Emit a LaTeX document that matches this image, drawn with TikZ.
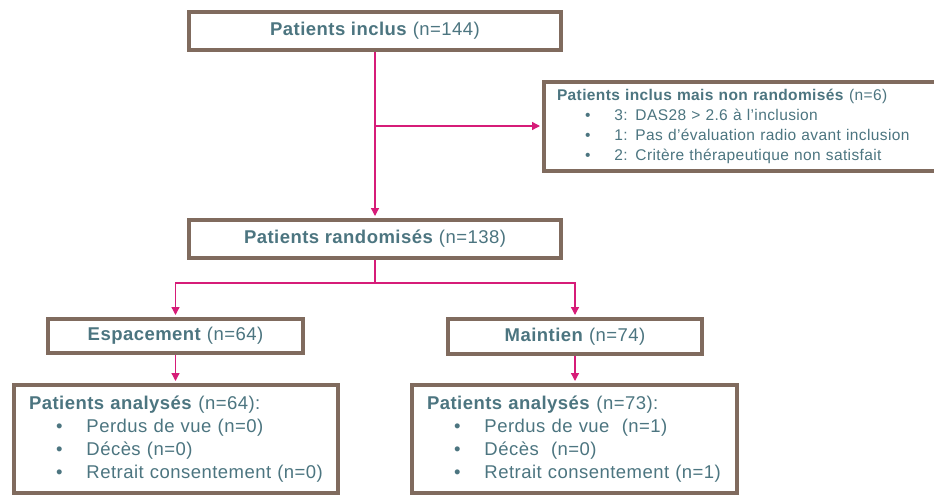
\documentclass[tikz,border=0pt]{standalone}
\usepackage{fontspec}
\setmainfont{Liberation Sans}[LetterSpace=2.5]
\usetikzlibrary{arrows.meta}
\definecolor{cadre}{RGB}{128,107,94}
\definecolor{lien}{RGB}{214,28,120}
\definecolor{texte}{RGB}{76,117,128}
\begin{document}
\begin{tikzpicture}[x=1pt,y=-1pt,
    boite/.style={draw=cadre,line width=4pt,fill=white,text=texte,inner sep=0pt,font=\fontsize{18.5}{23}\selectfont},
    liste/.style={boite,align=left,inner xsep=15pt},
    fleche/.style={draw=lien,line width=1.3pt,shorten >=2pt,-{Triangle[length=8pt,width=8pt]}}]
\useasboundingbox (0,0) rectangle (934,495);
\node[boite,minimum width=372,minimum height=38] (incl) at (375,31) {\textbf{Patients inclus} (n=144)};
\node[liste,inner xsep=13pt,minimum width=400,minimum height=89,text width=374,font=\fontsize{15.5}{20}\selectfont] (exclus) at (744,126)
    {\textbf{Patients inclus mais non randomisés} (n=6)\\
    \hspace*{28pt}\textbullet\hspace{24pt}3: DAS28 > 2.6 à l’inclusion\\
    \hspace*{28pt}\textbullet\hspace{24pt}1: Pas d’évaluation radio avant inclusion\\
    \hspace*{28pt}\textbullet\hspace{24pt}2: Critère thérapeutique non satisfait};
\node[boite,minimum width=372,minimum height=38] (rando) at (375,239) {\textbf{Patients randomisés} (n=138)};
\node[boite,minimum width=255,minimum height=34] (espac) at (175.5,336) {\textbf{Espacement} (n=64)};
\node[boite,minimum width=254,minimum height=35] (maint) at (575,336.5) {\textbf{Maintien} (n=74)};
\node[liste,minimum width=324,minimum height=108,text width=294] (analg) at (176,439)
    {\textbf{Patients analysés} (n=64):\\
    \hspace*{27pt}\textbullet\hspace{24pt}Perdus de vue (n=0)\\
    \hspace*{27pt}\textbullet\hspace{24pt}Décès (n=0)\\
    \hspace*{27pt}\textbullet\hspace{24pt}Retrait consentement (n=0)};
\node[liste,minimum width=325,minimum height=108,text width=295] (analr) at (574.5,439)
    {\textbf{Patients analysés} (n=73):\\
    \hspace*{27pt}\textbullet\hspace{24pt}Perdus de vue\ \ (n=1)\\
    \hspace*{27pt}\textbullet\hspace{24pt}Décès\ \ (n=0)\\
    \hspace*{27pt}\textbullet\hspace{24pt}Retrait consentement (n=1)};
\coordinate (split) at (375,283);
\draw[fleche] (incl) -- (rando);
\draw[fleche] (incl.south |- exclus.west) -- (exclus.west);
\draw[draw=lien,line width=1.3pt] (rando.south) -- (split);
\draw[fleche] (split) -| (espac.north);
\draw[fleche] (split) -| (maint.north);
\draw[fleche] (espac.south) -- (espac.south |- analg.north);
\draw[fleche] (maint.south) -- (maint.south |- analr.north);
\end{tikzpicture}
\end{document}
